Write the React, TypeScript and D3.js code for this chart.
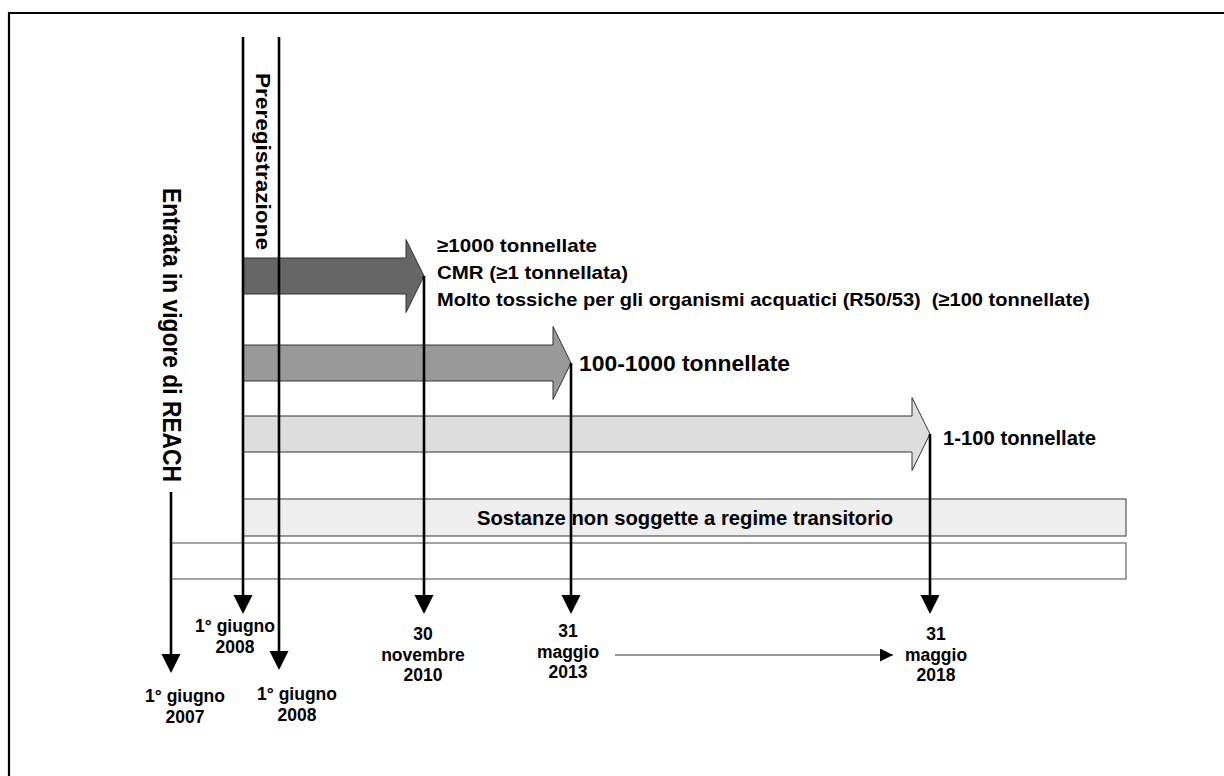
// @ts-nocheck
import * as d3 from "d3";

// milestones on the timeline (ids, date labels)
const milestones = ["entry", "prereg_start", "prereg_end", "d2010", "d2013", "d2018"];
const milestoneLabels = [
  ["1° giugno", "2007"],
  ["1° giugno", "2008"],
  ["1° giugno", "2008"],
  ["30", "novembre", "2010"],
  ["31", "maggio", "2013"],
  ["31", "maggio", "2018"],
];

// registration deadlines (tonnage bands), each ending at a milestone
const bands = ["b1", "b2", "b3"];
const bandEnds = ["d2010", "d2013", "d2018"];
const bandFills = ["#666666", "#999999", "#dddddd"];
const bandLabels = [
  ["≥1000 tonnellate", "CMR (≥1 tonnellata)", "Molto tossiche per gli organismi acquatici (R50/53)  (≥100 tonnellate)"],
  ["100-1000 tonnellate"],
  ["1-100 tonnellate"],
];

const nonPhaseIn = "Sostanze non soggette a regime transitorio";
const entryLabel = "Entrata in vigore di REACH";
const preregLabel = "Preregistrazione";

const W = 1224;
const H = 776;
const font = "'Liberation Sans', Arial, sans-serif";

const App = () => {
  const x = d3.scaleOrdinal().domain(milestones).range([171, 243, 279, 424, 571, 930]);
  const y = d3.scaleOrdinal().domain(bands).range([276, 363, 434]);
  const xEnd = 1126;
  const bodyH = 36;
  const headH = 73;
  const headL = 18;

  const arrowPath = (x0, x1, cy) => {
    const xh = x1 - headL;
    return (
      d3.line()([
        [x0, cy - bodyH / 2],
        [xh, cy - bodyH / 2],
        [xh, cy - headH / 2],
        [x1, cy],
        [xh, cy + headH / 2],
        [xh, cy + bodyH / 2],
        [x0, cy + bodyH / 2],
      ]) + "Z"
    );
  };

  const tipY = { entry: 673, prereg_start: 614, prereg_end: 670, d2010: 614, d2013: 614, d2018: 614 };
  const startY = { entry: 492, prereg_start: 37, prereg_end: 37 };
  bandEnds.forEach((m, i) => (startY[m] = y(bands[i])));

  // date label layout: center x, first baseline
  const labelX = { entry: 185, prereg_start: 235, prereg_end: 297, d2010: 423, d2013: 568, d2018: 936 };
  const labelBase = { entry: 702, prereg_start: 632, prereg_end: 700, d2010: 640, d2013: 637, d2018: 640 };

  // band label layout
  const band1Len = [160, 191, 653];
  const bar1 = [499, 536];
  const bar2 = [543, 579];

  return (
    <svg width={W} height={H} style={{ position: "absolute", left: 0, top: 0, background: "#fff" }} fontFamily={font}>
      <defs>
        <marker id="small-head" viewBox="0 0 10 10" refX="10" refY="5" markerWidth="13" markerHeight="13" markerUnits="userSpaceOnUse" orient="auto">
          <path d="M0,0 L10,5 L0,10 Z" fill="#000" />
        </marker>
      </defs>
      {/* frame */}
      <path d={`M9,${H + 5} L9,13 L${W + 5},13`} fill="none" stroke="#000" strokeWidth={2.2} />

      {/* tonnage bands */}
      {bands.map((b, i) => (
        <path key={b} d={arrowPath(x("prereg_start"), x(bandEnds[i]), y(b))} fill={bandFills[i]} stroke="#333" strokeWidth={1} />
      ))}

      {/* non phase-in bar and empty bar */}
      <rect x={x("prereg_start")} y={bar1[0]} width={xEnd - x("prereg_start")} height={bar1[1] - bar1[0]} fill="#eeeeee" stroke="#555" strokeWidth={1.2} />
      <text x={477} y={525} fontSize={20} fontWeight="bold" textLength={416} lengthAdjust="spacingAndGlyphs">
        {nonPhaseIn}
      </text>
      <rect x={x("entry")} y={bar2[0]} width={xEnd - x("entry")} height={bar2[1] - bar2[0]} fill="#fff" stroke="#666" strokeWidth={1.2} />

      {/* vertical milestone lines with heads */}
      {milestones.map((m) => (
        <g key={m}>
          <line x1={x(m)} x2={x(m)} y1={startY[m]} y2={tipY[m] - 17} stroke="#000" strokeWidth={2.6} />
          <path d={`M${x(m) - 9.5},${tipY[m] - 19} L${x(m) + 9.5},${tipY[m] - 19} L${x(m)},${tipY[m]} Z`} fill="#000" />
        </g>
      ))}

      {/* band labels */}
      <g fontWeight="bold" fill="#000">
        {bandLabels[0].map((t, j) => (
          <text key={j} x={437} y={252 + j * 27} fontSize={19} textLength={band1Len[j]} lengthAdjust="spacingAndGlyphs" xmlSpace="preserve">
            {t}
          </text>
        ))}
        <text x={579} y={371} fontSize={22} textLength={211} lengthAdjust="spacingAndGlyphs">{bandLabels[1][0]}</text>
        <text x={943} y={445} fontSize={20} textLength={153} lengthAdjust="spacingAndGlyphs">{bandLabels[2][0]}</text>
      </g>

      {/* rotated labels */}
      <text transform={`translate(${x("entry") - 8},188) rotate(90)`} fontSize={25} fontWeight="bold" textLength={294} lengthAdjust="spacingAndGlyphs">
        {entryLabel}
      </text>
      <text transform={`translate(${(x("prereg_start") + x("prereg_end")) / 2 - 5},73) rotate(90)`} fontSize={21} fontWeight="bold" textLength={177} lengthAdjust="spacingAndGlyphs">
        {preregLabel}
      </text>

      {/* date labels */}
      <g fontWeight="bold" fontSize={17.5} textAnchor="middle">
        {milestones.map((m, i) =>
          milestoneLabels[i].map((t, j) => (
            <text key={m + j} x={labelX[m]} y={labelBase[m] + j * 20.5}>{t}</text>
          ))
        )}
      </g>

      {/* thin arrow between 2013 and 2018 */}
      <line x1={615} x2={893} y1={655} y2={655} stroke="#333" strokeWidth={1.2} markerEnd="url(#small-head)" />
    </svg>
  );
};

export default App;
